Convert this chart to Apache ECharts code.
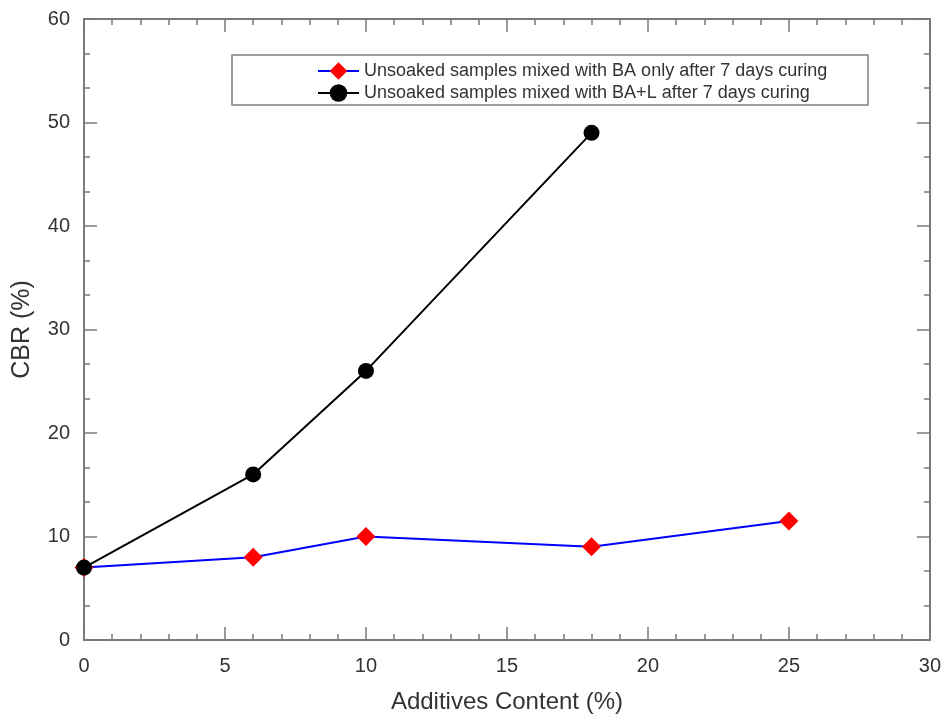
<!DOCTYPE html>
<html>
<head>
<meta charset="utf-8">
<script src="https://cdn.jsdelivr.net/npm/echarts@6/dist/echarts.min.js"></script>
<style>html,body{margin:0;padding:0;background:#fff}#c{width:944px;height:721px}</style>
</head>
<body>
<div id="c"></div>
<script>
var baX = [0, 6, 10, 18, 25];
var baY = [7, 8, 10, 9, 11.5];
var balX = [0, 6, 10, 18];
var balY = [7, 16, 26, 49];
var seriesNames = ['Unsoaked samples mixed with BA only after 7 days curing', 'Unsoaked samples mixed with BA+L after 7 days curing'];

function pairs(xs, ys) { return xs.map(function (x, i) { return [x, ys[i]]; }); }

var chart = echarts.init(document.getElementById('c'));
var font = 'Liberation Sans, Arial, sans-serif';
var axisColor = '#7a7a7a';
function ax(extra, split) {
  return Object.assign({
    axisLine: { show: true, onZero: false, lineStyle: { color: axisColor, width: 2 } },
    axisTick: { show: true, inside: true, length: 13, lineStyle: { color: axisColor, width: 1.5 } },
    minorTick: { show: true, splitNumber: split, length: 6, lineStyle: { color: axisColor, width: 1.5 } },
    splitLine: { show: false },
    minorSplitLine: { show: false }
  }, extra);
}

chart.setOption({
  animation: false,
  backgroundColor: '#fff',
  grid: { left: 84, right: 14, top: 19, bottom: 81, containLabel: false },
  xAxis: [
    ax({ type: 'value', min: 0, max: 30, interval: 5, position: 'bottom',
      axisLabel: { fontSize: 20, color: '#333', fontFamily: font, margin: 16 },
      name: 'Additives Content (%)', nameLocation: 'middle', nameGap: 50,
      nameTextStyle: { fontSize: 24, color: '#333', fontFamily: font } }, 5),
    ax({ type: 'value', min: 0, max: 30, interval: 5, position: 'top',
      axisLabel: { show: false } }, 5)
  ],
  yAxis: [
    ax({ type: 'value', min: 0, max: 60, interval: 10, position: 'left',
      axisLabel: { fontSize: 20, color: '#333', fontFamily: font, margin: 14 },
      name: 'CBR (%)', nameLocation: 'middle', nameGap: 49,
      nameTextStyle: { fontSize: 25, color: '#333', fontFamily: font } }, 3),
    ax({ type: 'value', min: 0, max: 60, interval: 10, position: 'right',
      axisLabel: { show: false } }, 3)
  ],
  legend: {
    orient: 'vertical', left: 317, top: 62, itemWidth: 41, itemHeight: 22, itemGap: 4,
    padding: 0,
    textStyle: { fontSize: 18, color: '#333', fontFamily: font },
    data: seriesNames
  },
  graphic: [{
    type: 'rect', shape: { x: 232, y: 55, width: 636, height: 50 },
    style: { fill: 'rgba(0,0,0,0)', stroke: '#808080', lineWidth: 1.5 }, z: 100
  }],
  series: [
    { name: seriesNames[0], type: 'line', data: pairs(baX, baY),
      lineStyle: { color: '#0000ff', width: 2 }, itemStyle: { color: '#ff0000' },
      symbol: 'diamond', symbolSize: 19 },
    { name: seriesNames[1], type: 'line', data: pairs(balX, balY),
      lineStyle: { color: '#000000', width: 2 }, itemStyle: { color: '#000000' },
      symbol: 'circle', symbolSize: 16 }
  ]
});
</script>
</body>
</html>
